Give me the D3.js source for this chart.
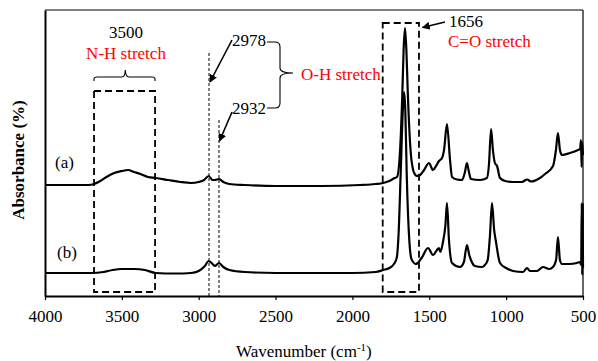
<!DOCTYPE html>
<html>
<head>
<meta charset="utf-8">
<script src="https://cdn.jsdelivr.net/npm/d3@7"></script>
<style>
    body { margin: 0; background: #fff; }
    svg text { font-family: "Liberation Serif", "Times New Roman", Tinos, "DejaVu Serif", serif !important; }
</style>
</head>
<body>
<div id="ftir-chart"></div>
<script>
// spectrum (a), upper trace
var wn_a = [4000, 3850, 3720, 3680, 3640, 3600, 3550, 3500, 3460, 3420, 3380, 3330, 3280, 3200, 3120, 3050, 3000,
    2965, 2935, 2910, 2895, 2868, 2840, 2800, 2700, 2500, 2200, 1950, 1850, 1800, 1760, 1725, 1710, 1690,
    1675, 1667, 1658, 1649, 1640, 1622, 1605, 1590, 1580, 1560, 1534, 1502, 1476, 1456, 1437, 1417, 1404,
    1385, 1365, 1352, 1320, 1287, 1268, 1255, 1242, 1229, 1170, 1125, 1112, 1098, 1086, 1073, 1059, 1040,
    1007, 955, 897, 864, 838, 780, 747, 695, 676, 663, 650, 637, 585, 532, 519, 513, 509, 506, 500];
var abs_a = [1.11, 1.11, 1.11, 1.12, 1.15, 1.19, 1.23, 1.25, 1.26, 1.24, 1.22, 1.19, 1.18, 1.16, 1.14, 1.13, 1.14,
    1.16, 1.20, 1.16, 1.16, 1.17, 1.14, 1.12, 1.11, 1.10, 1.10, 1.11, 1.12, 1.13, 1.15, 1.18, 1.19, 1.46,
    2.04, 2.46, 2.68, 2.46, 2.04, 1.46, 1.26, 1.21, 1.20, 1.21, 1.26, 1.33, 1.26, 1.30, 1.35, 1.38, 1.46,
    1.72, 1.36, 1.19, 1.165, 1.16, 1.24, 1.33, 1.24, 1.17, 1.16, 1.18, 1.31, 1.67, 1.46, 1.33, 1.30, 1.18,
    1.15, 1.14, 1.14, 1.165, 1.145, 1.18, 1.22, 1.30, 1.46, 1.63, 1.46, 1.41, 1.43, 1.46, 1.47, 1.56, 1.29, 1.54, 1.41];

// spectrum (b), lower trace
var wn_b = [4000, 3800, 3700, 3620, 3560, 3500, 3420, 3350, 3280, 3150, 3050, 3000, 2960, 2935, 2910, 2895, 2868,
    2840, 2800, 2700, 2500, 2000, 1850, 1800, 1760, 1730, 1712, 1700, 1686, 1672, 1664, 1656, 1647, 1632,
    1618, 1605, 1590, 1575, 1550, 1508, 1476, 1450, 1437, 1428, 1411, 1395, 1385, 1372, 1352, 1300, 1275,
    1255, 1240, 1229, 1203, 1157, 1138, 1120, 1105, 1092, 1078, 1066, 1040, 1000, 955, 890, 864, 845, 800,
    760, 720, 695, 675, 663, 650, 637, 590, 540, 520, 512, 508, 505, 502, 500];
var abs_b = [0.23, 0.23, 0.23, 0.24, 0.26, 0.27, 0.27, 0.26, 0.23, 0.225, 0.23, 0.25, 0.30, 0.35, 0.32, 0.30, 0.33,
    0.29, 0.26, 0.24, 0.23, 0.23, 0.24, 0.26, 0.28, 0.32, 0.38, 0.61, 1.23, 1.86, 2.04, 1.86, 1.23, 0.61,
    0.38, 0.34, 0.32, 0.33, 0.38, 0.48, 0.41, 0.46, 0.48, 0.44, 0.54, 0.71, 0.93, 0.56, 0.33, 0.29, 0.34,
    0.51, 0.41, 0.36, 0.30, 0.29, 0.31, 0.36, 0.61, 0.93, 0.66, 0.54, 0.33, 0.28, 0.25, 0.24, 0.28, 0.25, 0.25,
    0.29, 0.27, 0.29, 0.36, 0.59, 0.36, 0.32, 0.32, 0.33, 0.34, 0.31, 0.93, 0.21, 0.92, 0.28];

var x_ticks = [4000, 3500, 3000, 2500, 2000, 1500, 1000, 500];
var series_labels = ["(a)", "(b)"];

const margin = { top: 10, bottom: 65, left: 45, right: 15 };
const svg = d3.select("#ftir-chart")
    .append("svg")
    .attr("width", 598)
    .attr("height", 361);
const width = 598 - margin.left - margin.right;
const height = 361 - margin.top - margin.bottom;
const canvas = svg.append("g")
    .attr("transform", `translate(${margin.left},${margin.top})`);

var xScale = d3.scaleLinear().domain([4000, 500]).range([0, width]);
var yScale = d3.scaleLinear().domain([0, 2.86]).range([height, 0]);

function to_points(wn, ab) {
    return wn.map(function (d, i) {
        return { wn: d, abs: ab[i] };
    });
}

var line = d3.line()
    .x(function (d) { return xScale(d.wn); })
    .y(function (d) { return yScale(d.abs); })
    .curve(d3.curveMonotoneX);

// frame: thin top/right, thick axes left/bottom
canvas.append("line")
    .attr("x1", 0).attr("x2", width).attr("y1", 0).attr("y2", 0)
    .attr("stroke", "#000").attr("stroke-width", 1.2);
canvas.append("line")
    .attr("x1", width).attr("x2", width).attr("y1", 0).attr("y2", height)
    .attr("stroke", "#000").attr("stroke-width", 1.2);

var xAxis = canvas.append("g")
    .attr("transform", "translate(0," + height + ")")
    .call(d3.axisBottom(xScale).tickValues(x_ticks).tickFormat(d3.format("d")).tickSize(4).tickSizeOuter(0));
xAxis.attr("font-family", null);
xAxis.select(".domain").attr("stroke-width", 2);
xAxis.selectAll(".tick line").attr("stroke-width", 1.2);
xAxis.selectAll(".tick text")
    .attr("y", 14)
    .style("font-size", "17px")
    .attr("fill", "#000");

var yAxis = canvas.append("g")
    .call(d3.axisLeft(yScale).tickValues([]).tickSizeOuter(0));
yAxis.select(".domain").attr("stroke-width", 2);

// dashed boxes
function dashed_box(wn1, wn2, top, bottom) {
    canvas.append("rect")
        .attr("x", xScale(wn1))
        .attr("y", yScale(top))
        .attr("width", xScale(wn2) - xScale(wn1))
        .attr("height", yScale(bottom) - yScale(top))
        .attr("fill", "none")
        .attr("stroke", "#000")
        .attr("stroke-width", 1.8)
        .attr("stroke-dasharray", "7,4");
}
dashed_box(3681, 3284, 2.05, 0.04);
dashed_box(1803, 1567, 2.73, 0.04);

// O-H dotted guide lines
[[2933, 2.43], [2868, 1.76]].forEach(function (d) {
    canvas.append("line")
        .attr("x1", xScale(d[0])).attr("x2", xScale(d[0]))
        .attr("y1", yScale(d[1])).attr("y2", height)
        .attr("stroke", "#000")
        .attr("stroke-width", 1)
        .attr("stroke-dasharray", "3,2");
});

// spectra
[to_points(wn_a, abs_a), to_points(wn_b, abs_b)].forEach(function (data) {
    canvas.append("path")
        .datum(data)
        .attr("fill", "none")
        .attr("stroke", "#000")
        .attr("stroke-width", 2.2)
        .attr("stroke-linejoin", "round")
        .attr("d", line);
});

// arrows
svg.append("defs").append("marker")
    .attr("id", "head")
    .attr("viewBox", "0 0 10 10")
    .attr("refX", 9).attr("refY", 5)
    .attr("markerWidth", 5).attr("markerHeight", 5)
    .attr("orient", "auto")
    .append("path")
    .attr("d", "M0,0 L10,5 L0,10 z")
    .attr("fill", "#000");

function arrow(x1, y1, x2, y2) {
    svg.append("line")
        .attr("x1", x1).attr("y1", y1).attr("x2", x2).attr("y2", y2)
        .attr("stroke", "#000")
        .attr("stroke-width", 1.6)
        .attr("marker-end", "url(#head)");
}
arrow(232, 40, 210, 82);
arrow(232, 112, 219.5, 141);
arrow(445, 22, 422.5, 27.5);

// brackets
svg.append("path")
    .attr("d", "M94,81 L94,79 Q94,77 97,77 L122,77 Q125,77 125.3,70 Q125.6,77 129,77 L152,77 Q155,77 155,79 L155,81")
    .attr("fill", "none").attr("stroke", "#000").attr("stroke-width", 1.1);
svg.append("path")
    .attr("d", "M267,42 L275,42 Q280,42 280,47 L280,68 Q280,73 293,73 Q280,73 280,78 L280,103 Q280,108 275,108 L267,108")
    .attr("fill", "none").attr("stroke", "#000").attr("stroke-width", 1.1);

// text annotations
function label(txt, x, y, color, anchor) {
    return svg.append("text")
        .attr("x", x).attr("y", y)
        .attr("text-anchor", anchor || "start")
        .style("font-size", "17px")
        .attr("fill", color)
        .text(txt);
}
label("3500", 126, 38, "#000", "middle");
label("N-H stretch", 126, 59, "#ff0000", "middle");
label("2978", 232, 46, "#000");
label("2932", 232, 114, "#000");
label("O-H stretch", 301, 80, "#ff0000");
label("1656", 449, 27, "#000");
label("C=O stretch", 448, 47, "#ff0000");
label(series_labels[0], 55, 168, "#000");
label(series_labels[1], 57, 258, "#000");

// axis titles
var xt = svg.append("text")
    .attr("x", 236).attr("y", 357)
    .style("font-size", "17px");
xt.append("tspan").text("Wavenumber (cm");
xt.append("tspan").attr("dy", -6).style("font-size", "11px").text("-1");
xt.append("tspan").attr("dy", 6).text(")");

svg.append("text")
    .attr("transform", "translate(24,160) rotate(-90)")
    .attr("text-anchor", "middle")
    .style("font-size", "17px")
    .style("font-weight", "bold")
    .text("Absorbance (%)");
</script>
</body>
</html>
